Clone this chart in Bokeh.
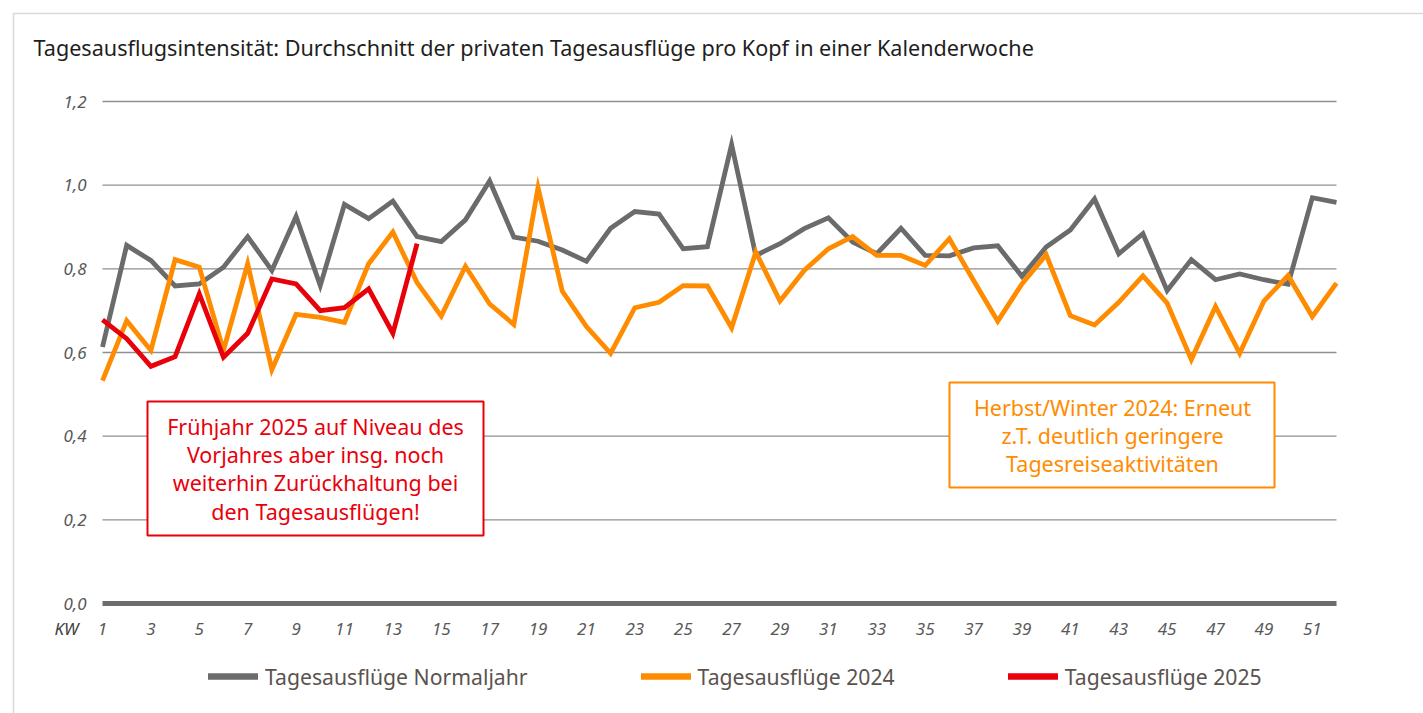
from bokeh.plotting import figure
from bokeh.models import (FixedTicker, CustomJSTickFormatter, Label, BoxAnnotation,
                          Legend, LegendItem, ColumnDataSource, Range1d)
from bokeh.embed import file_html
from bokeh.resources import INLINE

# ---------------- data ----------------
kw = list(range(1, 53))
normaljahr = [0.613, 0.856, 0.820, 0.759, 0.764, 0.804, 0.877, 0.796, 0.925, 0.760,
              0.954, 0.920, 0.962, 0.877, 0.865, 0.917, 1.010, 0.876, 0.866, 0.845,
              0.818, 0.897, 0.937, 0.931, 0.848, 0.853, 1.097, 0.832, 0.860, 0.896,
              0.922, 0.864, 0.836, 0.897, 0.832, 0.831, 0.850, 0.855, 0.782, 0.852,
              0.893, 0.967, 0.836, 0.884, 0.748, 0.822, 0.774, 0.788, 0.774, 0.763,
              0.970, 0.959]
jahr2024 = [0.533, 0.676, 0.605, 0.822, 0.804, 0.605, 0.812, 0.559, 0.691, 0.684,
            0.672, 0.812, 0.888, 0.767, 0.687, 0.806, 0.716, 0.667, 0.994, 0.747,
            0.662, 0.598, 0.707, 0.720, 0.760, 0.759, 0.659, 0.840, 0.723, 0.796,
            0.848, 0.877, 0.832, 0.832, 0.808, 0.872, 0.772, 0.675, 0.764, 0.834,
            0.688, 0.666, 0.720, 0.783, 0.718, 0.583, 0.710, 0.598, 0.723, 0.784,
            0.686, 0.766]
kw2025 = list(range(1, 15))
jahr2025 = [0.678, 0.633, 0.567, 0.590, 0.740, 0.589, 0.646, 0.776, 0.764, 0.700,
            0.707, 0.752, 0.646, 0.860]

y_ticks = [0.0, 0.2, 0.4, 0.6, 0.8, 1.0, 1.2]
x_ticks = list(range(1, 53, 2))
series_labels = ["Tagesausflüge Normaljahr", "Tagesausflüge 2024", "Tagesausflüge 2025"]
title_text = "Tagesausflugsintensität: Durchschnitt der privaten Tagesausflüge pro Kopf in einer Kalenderwoche"
note_red = ["Frühjahr 2025 auf Niveau des", "Vorjahres aber insg. noch",
            "weiterhin Zurückhaltung bei", "den Tagesausflügen!"]
note_orange = ["Herbst/Winter 2024: Erneut", "z.T. deutlich geringere",
               "Tagesreiseaktivitäten"]

# ---------------- layout (pixels) ----------------
W, H = 1423, 713
X_FIRST_PX, X_LAST_PX = 102, 1336    # where week 1 / week 52 sit
Y_ZERO_PX, Y_TOP_PX = 603, 101       # where 0.0 / 1.2 sit
SX = (X_LAST_PX - X_FIRST_PX) / (kw[-1] - kw[0])
SY = (Y_ZERO_PX - Y_TOP_PX) / (y_ticks[-1] - y_ticks[0])


def dx(px):
    return kw[0] + (px - X_FIRST_PX) / SX


def dy(py):
    return (Y_ZERO_PX - py) / SY


FONT = "Noto Sans"
GRAY = "#6b6b6b"
ORANGE = "#ff8c00"
RED = "#e8000b"

p = figure(width=W, height=H, output_backend="svg", toolbar_location=None,
           x_range=Range1d(dx(0), dx(W)), y_range=Range1d(dy(H), dy(0)),
           min_border=0)
p.min_border_left = p.min_border_right = p.min_border_top = p.min_border_bottom = 0
p.outline_line_color = None
p.background_fill_color = "white"
p.border_fill_color = "white"
p.xgrid.visible = False
p.ygrid.visible = False

# y axis (inside the frame, at week 1)
p.yaxis.fixed_location = kw[0]
p.yaxis.bounds = (y_ticks[0], y_ticks[-1])
p.yaxis.ticker = FixedTicker(ticks=y_ticks)
p.yaxis.formatter = CustomJSTickFormatter(code="return tick.toFixed(1).replace('.', ',');")
p.yaxis.axis_line_color = None
p.yaxis.major_tick_line_color = None
p.yaxis.minor_tick_line_color = None
p.yaxis.major_tick_out = 0
p.yaxis.major_tick_in = 0
p.yaxis.major_label_standoff = 16
p.yaxis.major_label_text_font = FONT
p.yaxis.major_label_text_font_style = "italic"
p.yaxis.major_label_text_font_size = "17px"
p.yaxis.major_label_text_color = "#595959"

# x axis (inside the frame, at 0)
p.xaxis.fixed_location = 0
p.xaxis.bounds = (kw[0], kw[-1])
p.xaxis.ticker = FixedTicker(ticks=x_ticks)
p.xaxis.axis_line_color = "#6d6d6d"
p.xaxis.axis_line_width = 5
p.xaxis.major_tick_line_color = None
p.xaxis.minor_tick_line_color = None
p.xaxis.major_tick_out = 0
p.xaxis.major_tick_in = 0
p.xaxis.major_label_standoff = 19
p.xaxis.major_label_text_font = FONT
p.xaxis.major_label_text_font_style = "italic"
p.xaxis.major_label_text_font_size = "17px"
p.xaxis.major_label_text_color = "#595959"

# horizontal grid lines spanning weeks 1..52
p.segment(x0=kw[0], x1=kw[-1], y0=y_ticks[1:], y1=y_ticks[1:],
          line_color="#8f8f8f", line_width=1.3)

# outer frame
p.add_layout(BoxAnnotation(left=dx(13), right=dx(W + 50), top=dy(13), bottom=dy(H + 50),
                           fill_alpha=0, line_color="#d9d9d9", line_alpha=1, line_width=1.5,
                           level="underlay"))

# lines
src_n = ColumnDataSource(dict(x=kw, y=normaljahr))
src_24 = ColumnDataSource(dict(x=kw, y=jahr2024))
src_25 = ColumnDataSource(dict(x=kw2025, y=jahr2025))
p.line("x", "y", source=src_n, line_color=GRAY, line_width=4.8, line_join="miter")
p.line("x", "y", source=src_24, line_color=ORANGE, line_width=4.8, line_join="miter")
p.line("x", "y", source=src_25, line_color=RED, line_width=4.8, line_join="miter")

# legend proxies (thicker, round caps; a single point draws nothing in the plot)
lg = [p.line(x=[kw[0]], y=[s[0]], line_color=c, line_width=6.5, line_cap="round")
      for c, s in zip([GRAY, ORANGE, RED], [normaljahr, jahr2024, jahr2025])]
legend = Legend(items=[LegendItem(label=l, renderers=[r]) for l, r in zip(series_labels, lg)],
                orientation="horizontal", location=(208, 22.5),
                glyph_width=50, glyph_height=24, label_height=24, label_standoff=7,
                spacing=113, padding=0, margin=0, border_line_color=None,
                background_fill_alpha=0,
                label_text_font=FONT, label_text_font_size="21.2px", label_text_color="#5a534f")
p.add_layout(legend, "center")

# title
p.add_layout(Label(x=dx(33), y=dy(47), text=title_text, text_font=FONT, text_font_size="21.6px",
                   text_color="#1e1e1e", text_baseline="middle", text_align="left"))
# KW label
p.add_layout(Label(x=dx(66), y=dy(628), text="KW", text_font=FONT, text_font_size="17px",
                   text_font_style="italic", text_color="#404040",
                   text_baseline="middle", text_align="center"))

# annotation boxes
p.add_layout(BoxAnnotation(left=dx(147), right=dx(483), top=dy(401), bottom=dy(535),
                           fill_color="white", fill_alpha=1, line_color=RED, line_alpha=1,
                           line_width=2))
p.add_layout(BoxAnnotation(left=dx(949), right=dx(1274), top=dy(382), bottom=dy(487),
                           fill_color="white", fill_alpha=1, line_color=ORANGE, line_alpha=1,
                           line_width=2))
for t, py in zip(note_red, [426, 454.3, 482.3, 510.7]):
    p.add_layout(Label(x=dx(315), y=dy(py), text=t, text_font=FONT, text_font_size="21.5px",
                       text_color=RED, text_align="center", text_baseline="middle"))
for t, py in zip(note_orange, [406.7, 434.7, 462.7]):
    p.add_layout(Label(x=dx(1112), y=dy(py), text=t, text_font=FONT, text_font_size="21.5px",
                       text_color=ORANGE, text_align="center", text_baseline="middle"))

open("out.html", "w").write(file_html(p, INLINE))
